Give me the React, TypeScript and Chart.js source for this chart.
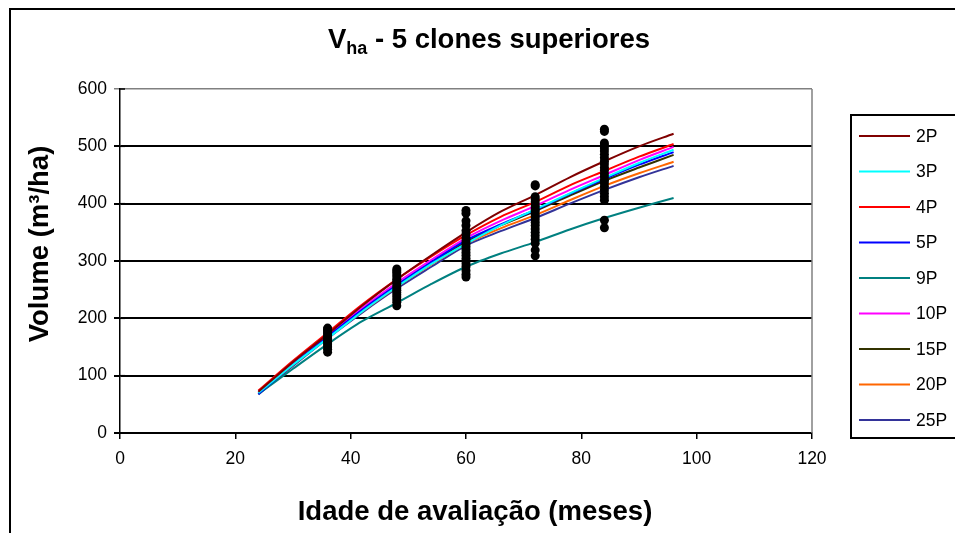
import { useEffect, useRef } from "react";
import { Chart, registerables } from "chart.js";

Chart.register(...registerables);

// Fitted curves, evaluated at these ages (months)
const ages = [24, 30, 36, 42, 48, 54, 60, 66, 72, 78, 84, 90, 96];

const seriesNames = ["2P", "3P", "4P", "5P", "9P", "10P", "15P", "20P", "25P"];
const seriesColors = [
  "#800000",
  "#00FFFF",
  "#FF0000",
  "#0000FF",
  "#008080",
  "#FF00FF",
  "#333300",
  "#FF6600",
  "#333399",
];

const v2P = [72, 124, 172, 222, 268, 310, 350, 386, 415, 446, 474, 500, 522];
const v3P = [70, 119, 165, 212, 255, 295, 330, 362, 390, 418, 445, 471, 494];
const v4P = [74, 126, 175, 224, 268, 308, 345, 377, 403, 432, 457, 482, 504];
const v5P = [68, 120, 168, 215, 258, 298, 336, 364, 389, 417, 443, 468, 490];
const v9P = [68, 112, 155, 195, 227, 260, 290, 313, 333, 355, 375, 393, 410];
const v10P = [72, 123, 170, 218, 262, 302, 340, 370, 396, 424, 450, 476, 499];
const v15P = [70, 120, 168, 214, 257, 297, 334, 362, 387, 414, 440, 463, 485];
const v20P = [70, 119, 166, 212, 255, 294, 330, 357, 380, 406, 431, 453, 473];
const v25P = [67, 117, 165, 210, 252, 290, 327, 352, 375, 400, 424, 446, 466];

const seriesValues = [v2P, v3P, v4P, v5P, v9P, v10P, v15P, v20P, v25P];

// Observed plot volumes at each measurement age
const obsAges = [36, 48, 60, 72, 84];
const obs36 = [183, 181, 178, 176, 173, 170, 168, 165, 162, 160, 157, 154, 150, 146, 141];
const obs48 = [286, 283, 280, 276, 272, 268, 265, 261, 257, 253, 249, 245, 241, 237, 233, 228, 222];
const obs60 = [388, 383, 370, 362, 353, 347, 340, 335, 330, 325, 320, 315, 310, 305, 300, 295, 290, 283, 277, 272];
const obs72 = [433, 431, 412, 408, 403, 398, 394, 390, 386, 381, 377, 372, 367, 362, 356, 350, 344, 338, 331, 319, 309];
const obs84 = [530, 526, 506, 502, 497, 492, 486, 480, 474, 469, 463, 458, 452, 447, 441, 436, 430, 424, 418, 412, 406, 371, 358];
const obsValues = [obs36, obs48, obs60, obs72, obs84];

const xTicksMax = 120;
const yTicksMax = 600;

const FONT = "'Liberation Sans', Arial, sans-serif";

const decorPlugin = {
  id: "decor",
  afterDraw(chart: any) {
    const ctx: CanvasRenderingContext2D = chart.ctx;
    const area = chart.chartArea;
    const yScale = chart.scales.y;
    ctx.save();

    // outer frame
    ctx.strokeStyle = "#000";
    ctx.lineWidth = 2;
    ctx.strokeRect(10, 9, 1000, 1000);

    // plot area right border
    ctx.strokeStyle = "#808080";
    ctx.lineWidth = 1.5;
    ctx.beginPath();
    ctx.moveTo(area.right, area.top);
    ctx.lineTo(area.right, area.bottom);
    ctx.stroke();

    // inner halves of the y tick marks
    ctx.strokeStyle = "#000";
    ctx.lineWidth = 1.5;
    yScale.ticks.forEach((t: any) => {
      const py = yScale.getPixelForValue(t.value);
      ctx.beginPath();
      ctx.moveTo(area.left, py);
      ctx.lineTo(area.left + 5, py);
      ctx.stroke();
    });

    // title with subscript
    ctx.fillStyle = "#000";
    ctx.textBaseline = "alphabetic";
    const big = `bold 27.5px ${FONT}`;
    const small = `bold 18px ${FONT}`;
    ctx.font = big;
    const w1 = ctx.measureText("V").width;
    const rest = " - 5 clones superiores";
    const w3 = ctx.measureText(rest).width;
    ctx.font = small;
    const w2 = ctx.measureText("ha").width;
    const total = w1 + w2 + w3;
    let tx = 489 - total / 2;
    const ty = 48;
    ctx.font = big;
    ctx.textAlign = "left";
    ctx.fillText("V", tx, ty);
    tx += w1;
    ctx.font = small;
    ctx.fillText("ha", tx, ty + 6);
    tx += w2;
    ctx.font = big;
    ctx.fillText(rest, tx, ty);

    // x axis title
    ctx.font = `bold 27.5px ${FONT}`;
    ctx.textAlign = "center";
    ctx.textBaseline = "middle";
    ctx.fillText("Idade de avaliação (meses)", 475, 512);

    // y axis title
    ctx.save();
    ctx.translate(40, 244);
    ctx.rotate(-Math.PI / 2);
    ctx.fillText("Volume (m³/ha)", 0, 0);
    ctx.restore();

    // legend
    ctx.strokeStyle = "#000";
    ctx.lineWidth = 2;
    ctx.strokeRect(851, 115, 120, 323);
    ctx.font = `17.5px ${FONT}`;
    ctx.textAlign = "left";
    ctx.textBaseline = "middle";
    const lines = chart.data.datasets.filter((d: any) => d.showLine);
    lines.forEach((d: any, i: number) => {
      const ly = 136 + i * 35.5;
      ctx.strokeStyle = d.borderColor;
      ctx.lineWidth = 2;
      ctx.beginPath();
      ctx.moveTo(859, ly);
      ctx.lineTo(910, ly);
      ctx.stroke();
      ctx.fillStyle = "#000";
      ctx.fillText(d.label, 916, ly + 1);
    });

    ctx.restore();
  },
};

export default function App() {
  const canvasRef = useRef<HTMLCanvasElement | null>(null);

  useEffect(() => {
    const canvas = canvasRef.current;
    if (!canvas) return;

    const observed = obsAges.flatMap((a, i) =>
      obsValues[i].map((v) => ({ x: a, y: v }))
    );

    const lineSets = seriesNames.map((name, i) => ({
      label: name,
      data: ages.map((a, j) => ({ x: a, y: seriesValues[i][j] })),
      showLine: true,
      borderColor: seriesColors[i],
      backgroundColor: seriesColors[i],
      borderWidth: 2,
      pointRadius: 0,
      tension: 0.3,
      order: 1 + i,
    }));

    const chart = new Chart(canvas, {
      type: "scatter",
      data: {
        datasets: [
          {
            label: "Observado",
            data: observed,
            showLine: false,
            pointRadius: 4.5,
            pointBorderWidth: 0,
            backgroundColor: "#000",
            borderColor: "#000",
            order: 0,
          } as any,
          ...lineSets,
        ],
      },
      options: {
        animation: false,
        responsive: false,
        devicePixelRatio: 1,
        layout: { padding: { left: 60, right: 143, top: 89, bottom: 50 } },
        plugins: {
          legend: { display: false },
          title: { display: false },
          tooltip: { enabled: false },
        },
        scales: {
          x: {
            type: "linear",
            min: 0,
            max: xTicksMax,
            afterFit: (s: any) => {
              s.height = 50;
            },
            ticks: {
              stepSize: 20,
              color: "#000",
              font: { family: FONT, size: 17.5 },
              padding: 10,
              maxRotation: 0,
            },
            grid: {
              drawOnChartArea: false,
              drawTicks: true,
              tickLength: 6,
              color: "#000",
              lineWidth: 1.5,
            },
            border: { display: true, color: "#000", width: 2 },
          },
          y: {
            type: "linear",
            min: 0,
            max: yTicksMax,
            afterFit: (s: any) => {
              s.width = 60;
            },
            ticks: {
              stepSize: 100,
              color: "#000",
              font: { family: FONT, size: 17.5 },
              padding: 7,
            },
            grid: {
              drawOnChartArea: true,
              drawTicks: true,
              tickLength: 6,
              color: (c: any) => (c.tick && c.tick.value === yTicksMax ? "#808080" : "#000"),
              lineWidth: (c: any) => (c.tick && c.tick.value === yTicksMax ? 1.5 : 2),
            },
            border: { display: true, color: "#000", width: 1.5 },
          },
        },
      },
      plugins: [decorPlugin],
    });

    return () => chart.destroy();
  }, []);

  return (
    <div
      style={{
        position: "fixed",
        left: 0,
        top: 0,
        width: 955,
        height: 533,
        background: "#fff",
      }}
    >
      <canvas ref={canvasRef} width={955} height={533} />
    </div>
  );
}
